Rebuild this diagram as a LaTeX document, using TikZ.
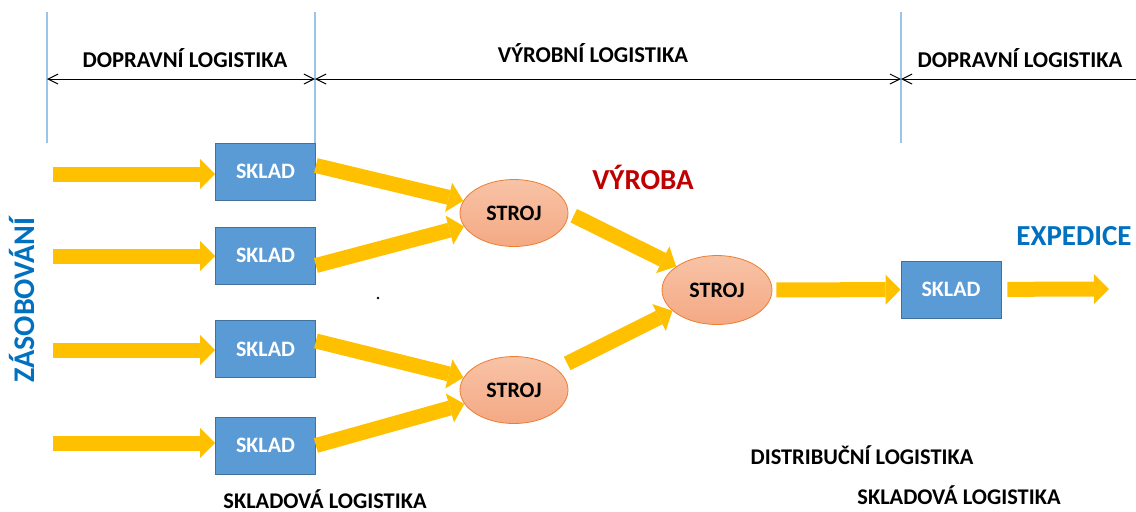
\documentclass[tikz,border=0pt]{standalone}
\usepackage{fontspec}
\setmainfont{Carlito}
\usetikzlibrary{arrows.meta,shapes.geometric}
\definecolor{tokyellow}{HTML}{FFC000}
\definecolor{skladblue}{HTML}{5B9BD5}
\definecolor{skladline}{HTML}{41719C}
\definecolor{strojline}{HTML}{ED7D31}
\definecolor{strojtop}{HTML}{F8C3A6}
\definecolor{strojbot}{HTML}{F4A984}
\definecolor{vyrobared}{HTML}{C00000}
\definecolor{textblue}{HTML}{0070C0}
\definecolor{mezline}{HTML}{9DC3E6}

\begin{document}
\begin{tikzpicture}[x=0.5pt,y=-0.5pt,
  sklad/.style={rectangle,draw=skladline,fill=skladblue,minimum width=50pt,minimum height=28.5pt,
    inner sep=0pt,text=white,font=\bfseries\fontsize{11}{13}\selectfont},
  stroj/.style={ellipse,draw=strojline,top color=strojtop,bottom color=strojbot,
    minimum width=54pt,minimum height=33.5pt,inner sep=0pt,font=\bfseries\fontsize{11}{13}\selectfont},
  tok/.style={draw=tokyellow,line width=7.5pt,-{Triangle[length=7.5pt,width=15pt,line width=0pt]}},
  kota/.style={draw=black,line width=0.5pt},
  hlavicka/.style={font=\bfseries\fontsize{11.3}{14}\selectfont},
  popis/.style={font=\bfseries\fontsize{11.2}{13}\selectfont},
  nadpis/.style={font=\bfseries\fontsize{14.5}{17}\selectfont}]
  \useasboundingbox (0,0) rectangle (1136,511);
  % Boundaries between the logistics areas
  \foreach \x/\n in {47/a,315/b,901/c} {
    \coordinate (top\n) at (\x,12);
    \coordinate (bot\n) at (\x,143);
    \coordinate (dim\n) at (\x,79);
    \draw[mezline,line width=0.6pt] (top\n) -- (bot\n);
  }
  \coordinate (dimend) at (1136,79);
  % Dimension line
  \draw[kota,{Straight Barb[length=5pt,width=5pt]}-{Straight Barb[length=5pt,width=5pt]}] (dima) -- (dimb);
  \draw[kota,{Straight Barb[length=5pt,width=5pt]}-{Straight Barb[length=5pt,width=5pt]}] (dimb) -- (dimc);
  \draw[kota,{Straight Barb[length=5pt,width=5pt]}-] (dimc) -- (dimend);
  \node[hlavicka] (doprava1) at (185,58) {DOPRAVNÍ LOGISTIKA};
  \node[hlavicka] (vyrobni) at (593,53) {VÝROBNÍ LOGISTIKA};
  \node[hlavicka] (doprava2) at (1020,58) {DOPRAVNÍ LOGISTIKA};
  % Warehouses
  \node[sklad] (sk1) at (265.5,171.5) {SKLAD};
  \node[sklad] (sk2) at (265.5,255.5) {SKLAD};
  \node[sklad] (sk3) at (265.5,349) {SKLAD};
  \node[sklad] (sk4) at (265.5,445.5) {SKLAD};
  \node[sklad] (sk5) at (951,289.5) {SKLAD};
  % Machines
  \node[stroj] (st1) at (514,213) {STROJ};
  \node[stroj] (st2) at (514,390) {STROJ};
  \node[stroj,minimum width=55pt,minimum height=34.5pt] (st3) at (717,290) {STROJ};
  % Supply
  \foreach \i/\y in {1/174,2/256,3/350,4/443} {
    \coordinate (in\i) at (53,\y);
    \draw[tok] (in\i) -- (sk\i.west |- in\i);
  }
  % Flow
  \draw[tok] ([yshift=3pt]sk1.east) -- (st1);
  \draw[tok] ([yshift=-5pt]sk2.east) -- (st1);
  \draw[tok] ([yshift=4pt]sk3.east) -- (st2);
  \draw[tok] (sk4.east) -- (st2);
  \draw[tok,shorten <=3pt] (st1.east) -- (st3.150);
  \draw[tok,shorten <=6pt] (st2) -- (st3.205);
  \draw[tok,shorten <=2pt] (st3) -- (sk5);
  \coordinate (out) at (1109,289);
  \draw[tok,shorten <=3pt] (sk5) -- (out);
  % Labels
  \node[nadpis,text=vyrobared] (vyroba) at (643,177) {VÝROBA};
  \node[nadpis,text=textblue] (expedice) at (1074,236) {EXPEDICE};
  \node[nadpis,text=textblue,rotate=90,font=\bfseries\fontsize{15}{18}\selectfont] (zasobovani) at (22,300) {ZÁSOBOVÁNÍ};
  \fill (378,298) circle (0.7pt);
  \node[popis] (distribuce) at (862,455) {DISTRIBUČNÍ LOGISTIKA};
  \node[popis] (skladova1) at (325,499) {SKLADOVÁ LOGISTIKA};
  \node[popis] (skladova2) at (959,495) {SKLADOVÁ LOGISTIKA};
\end{tikzpicture}
\end{document}
